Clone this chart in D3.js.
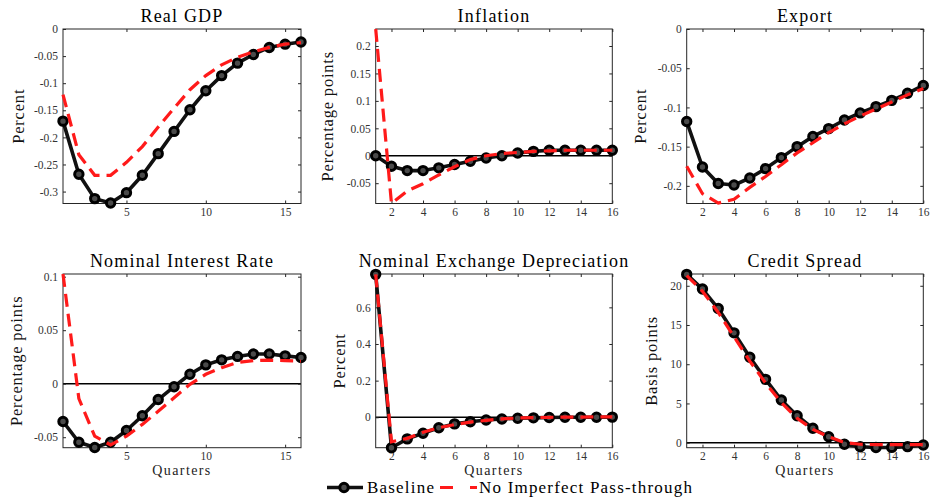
<!DOCTYPE html>
<html>
<head>
<meta charset="utf-8">
<script src="https://cdn.jsdelivr.net/npm/d3@7/dist/d3.min.js"></script>
<style>
  body { margin: 0; background: #fff; }
  svg { display: block; }
  text { font-family: "Liberation Serif", "Times New Roman", serif; }
</style>
</head>
<body>
<svg id="chart" width="931" height="497"></svg>
<script>
// Impulse responses over 16 quarters: baseline vs. no imperfect pass-through
const quarters = [1, 2, 3, 4, 5, 6, 7, 8, 9, 10, 11, 12, 13, 14, 15, 16];

const gdpBaseline      = [-0.170, -0.268, -0.313, -0.321, -0.302, -0.270, -0.230, -0.189, -0.149, -0.114, -0.086, -0.063, -0.047, -0.034, -0.028, -0.024];
const gdpNoPassThrough = [-0.121, -0.232, -0.270, -0.270, -0.246, -0.217, -0.181, -0.146, -0.112, -0.086, -0.066, -0.052, -0.042, -0.034, -0.028, -0.025];

const inflBaseline      = [0.000, -0.019, -0.027, -0.027, -0.022, -0.016, -0.010, -0.004, 0.000, 0.005, 0.008, 0.010, 0.010, 0.010, 0.010, 0.010];
const inflNoPassThrough = [0.231, -0.087, -0.064, -0.051, -0.035, -0.020, -0.007, 0.000, 0.004, 0.006, 0.008, 0.009, 0.010, 0.010, 0.010, 0.010];

const exportBaseline      = [-0.118, -0.176, -0.197, -0.199, -0.190, -0.178, -0.164, -0.150, -0.137, -0.127, -0.116, -0.107, -0.099, -0.091, -0.082, -0.072];
const exportNoPassThrough = [-0.175, -0.210, -0.222, -0.217, -0.202, -0.188, -0.173, -0.158, -0.145, -0.132, -0.121, -0.111, -0.102, -0.093, -0.084, -0.076];

const rateBaseline      = [-0.0353, -0.0547, -0.0596, -0.0547, -0.0437, -0.0299, -0.0148, -0.0028, 0.0088, 0.0176, 0.0223, 0.0255, 0.0277, 0.0277, 0.0260, 0.0245];
const rateNoPassThrough = [0.1025, -0.0140, -0.0490, -0.0572, -0.0490, -0.0380, -0.0258, -0.0132, -0.0006, 0.0088, 0.0150, 0.0198, 0.0215, 0.0220, 0.0215, 0.0210];

const fxBaseline      = [0.780, -0.166, -0.118, -0.087, -0.057, -0.036, -0.024, -0.015, -0.009, -0.005, -0.003, -0.001, 0.000, 0.000, 0.000, 0.001];
const fxNoPassThrough = [0.780, -0.134, -0.115, -0.082, -0.057, -0.040, -0.026, -0.017, -0.009, -0.004, -0.002, 0.000, 0.001, 0.001, 0.002, 0.002];

const spreadBaseline      = [21.45, 19.58, 17.10, 14.00, 10.88, 8.07, 5.44, 3.44, 1.83, 0.76, -0.20, -0.51, -0.62, -0.60, -0.50, -0.30];
const spreadNoPassThrough = [21.30, 19.30, 16.60, 13.50, 10.40, 7.60, 5.10, 3.10, 1.70, 0.75, 0.00, -0.20, -0.25, -0.25, -0.25, -0.25];

// Vertical ranges and tick values
const gdpRange    = [-0.322, 0];
const inflRange   = [-0.087, 0.231];
const exportRange = [-0.2225, 0];
const rateRange   = [-0.0598, 0.1025];
const fxRange     = [-0.166, 0.782];
const spreadRange = [-0.64, 21.5];

const gdpTicks    = [-0.3, -0.25, -0.2, -0.15, -0.1, -0.05, 0];
const inflTicks   = [-0.05, 0, 0.05, 0.1, 0.15, 0.2];
const exportTicks = [-0.2, -0.15, -0.1, -0.05, 0];
const rateTicks   = [-0.05, 0, 0.05, 0.1];
const fxTicks     = [0, 0.2, 0.4, 0.6];
const spreadTicks = [0, 5, 10, 15, 20];

const quarterTicksBy5 = [5, 10, 15];
const quarterTicksBy2 = [2, 4, 6, 8, 10, 12, 14, 16];

const titles  = ["Real GDP", "Inflation", "Export", "Nominal Interest Rate", "Nominal Exchange Depreciation", "Credit Spread"];
const yLabels = ["Percent", "Percentage points", "Percent", "Percentage points", "Percent", "Basis points"];
const legendLabels = ["Baseline", "No Imperfect Pass-through"];

// Panel table
const panels = [
  { title: titles[0], ylab: yLabels[0], base: gdpBaseline,    alt: gdpNoPassThrough,    range: gdpRange,    yt: gdpTicks,    xt: quarterTicksBy5 },
  { title: titles[1], ylab: yLabels[1], base: inflBaseline,   alt: inflNoPassThrough,   range: inflRange,   yt: inflTicks,   xt: quarterTicksBy2 },
  { title: titles[2], ylab: yLabels[2], base: exportBaseline, alt: exportNoPassThrough, range: exportRange, yt: exportTicks, xt: quarterTicksBy2 },
  { title: titles[3], ylab: yLabels[3], base: rateBaseline,   alt: rateNoPassThrough,   range: rateRange,   yt: rateTicks,   xt: quarterTicksBy5, xlab: "Quarters" },
  { title: titles[4], ylab: yLabels[4], base: fxBaseline,     alt: fxNoPassThrough,     range: fxRange,     yt: fxTicks,     xt: quarterTicksBy2, xlab: "Quarters" },
  { title: titles[5], ylab: yLabels[5], base: spreadBaseline, alt: spreadNoPassThrough, range: spreadRange, yt: spreadTicks, xt: quarterTicksBy2, xlab: "Quarters" }
];

// Layout of the 2x3 grid
const cols = [ { l: 63, r: 301 }, { l: 375.7, r: 612.3 }, { l: 686.7, r: 923.3 } ];
const rows = [ { t: 29, b: 203.5 }, { t: 274, b: 447.7 } ];
const yLabelX = [24, 333, 646, 21.5, 345, 657];

const AXIS = "#262626";
const RED = "#ff1a1a";

const svg = d3.select("#chart");

panels.forEach((p, i) => {
  const c = cols[i % 3], rw = rows[Math.floor(i / 3)];
  const x = d3.scaleLinear().domain([quarters[0], quarters[quarters.length - 1]]).range([c.l, c.r]);
  const y = d3.scaleLinear().domain(p.range).range([rw.b, rw.t]);
  const g = svg.append("g");

  // zero reference line
  if (p.range[0] < 0 && p.range[1] > 0) {
    g.append("line")
      .attr("x1", c.l).attr("x2", c.r)
      .attr("y1", y(0)).attr("y2", y(0))
      .attr("stroke", "#000").attr("stroke-width", 1.6);
  }

  // axes: labelled left/bottom, inward ticks on all four sides
  const fmt = d => String(d);
  const styleAxis = sel => {
    sel.select(".domain").remove();
    sel.selectAll(".tick line").attr("stroke", AXIS).attr("stroke-width", 1);
    sel.selectAll(".tick text").attr("fill", "#333").style("font-size", "11.5px")
      .style("font-family", "'Liberation Serif', serif");
  };
  g.append("g").attr("transform", `translate(${c.l},0)`)
    .call(d3.axisLeft(y).tickValues(p.yt).tickFormat(fmt).tickSizeInner(-3).tickSizeOuter(0).tickPadding(5))
    .call(styleAxis);
  g.append("g").attr("transform", `translate(${c.r},0)`)
    .call(d3.axisRight(y).tickValues(p.yt).tickFormat("").tickSizeInner(-3).tickSizeOuter(0))
    .call(styleAxis);
  g.append("g").attr("transform", `translate(0,${rw.b})`)
    .call(d3.axisBottom(x).tickValues(p.xt).tickFormat(fmt).tickSizeInner(-3).tickSizeOuter(0).tickPadding(4))
    .call(styleAxis);
  g.append("g").attr("transform", `translate(0,${rw.t})`)
    .call(d3.axisTop(x).tickValues(p.xt).tickFormat("").tickSizeInner(-3).tickSizeOuter(0))
    .call(styleAxis);

  g.append("rect")
    .attr("x", c.l).attr("y", rw.t)
    .attr("width", c.r - c.l).attr("height", rw.b - rw.t)
    .attr("fill", "none").attr("stroke", AXIS).attr("stroke-width", 1);

  const line = d3.line().x((d, k) => x(quarters[k])).y(d => y(d));

  // baseline: thick black line with circle markers
  g.append("path").datum(p.base)
    .attr("d", line).attr("fill", "none")
    .attr("stroke", "#111").attr("stroke-width", 3.6).attr("stroke-linejoin", "round");
  g.selectAll("circle.m").data(p.base).join("circle")
    .attr("class", "m")
    .attr("cx", (d, k) => x(quarters[k])).attr("cy", d => y(d))
    .attr("r", 4.2).attr("fill", "#4a4a4a")
    .attr("stroke", "#000").attr("stroke-width", 3);

  // alternative: red dashed line
  g.append("path").datum(p.alt)
    .attr("d", line).attr("fill", "none")
    .attr("stroke", RED).attr("stroke-width", 3.2)
    .attr("stroke-dasharray", "13,7");

  // title
  g.append("text")
    .attr("x", (c.l + c.r) / 2).attr("y", rw.t - 7)
    .attr("text-anchor", "middle").attr("fill", "#000")
    .style("font-size", "18px").style("letter-spacing", "1.2px")
    .text(p.title);

  // y label
  g.append("text")
    .attr("transform", `translate(${yLabelX[i]},${(rw.t + rw.b) / 2}) rotate(-90)`)
    .attr("text-anchor", "middle").attr("fill", "#111")
    .style("font-size", "16.5px").style("letter-spacing", "0.8px")
    .text(p.ylab);

  // x label
  if (p.xlab) {
    g.append("text")
      .attr("x", (c.l + c.r) / 2).attr("y", rw.b + 27)
      .attr("text-anchor", "middle").attr("fill", "#222")
      .style("font-size", "14px").style("letter-spacing", "1.4px")
      .text(p.xlab);
  }
});

// legend
const lg = svg.append("g");
const ly = 487.5;
lg.append("line").attr("x1", 327).attr("x2", 363).attr("y1", ly).attr("y2", ly)
  .attr("stroke", "#111").attr("stroke-width", 3.6);
lg.append("circle").attr("cx", 344).attr("cy", ly).attr("r", 4.2)
  .attr("fill", "#4a4a4a").attr("stroke", "#000").attr("stroke-width", 3);
lg.append("text").attr("x", 367).attr("y", 492.8).attr("fill", "#000")
  .style("font-size", "17px").style("letter-spacing", "1.2px").text(legendLabels[0]);
lg.append("line").attr("x1", 440).attr("x2", 477).attr("y1", ly).attr("y2", ly)
  .attr("stroke", RED).attr("stroke-width", 3.2).attr("stroke-dasharray", "13,17");
lg.append("text").attr("x", 479).attr("y", 492.8).attr("fill", "#000")
  .style("font-size", "17px").style("letter-spacing", "1.2px").text(legendLabels[1]);
</script>
</body>
</html>
